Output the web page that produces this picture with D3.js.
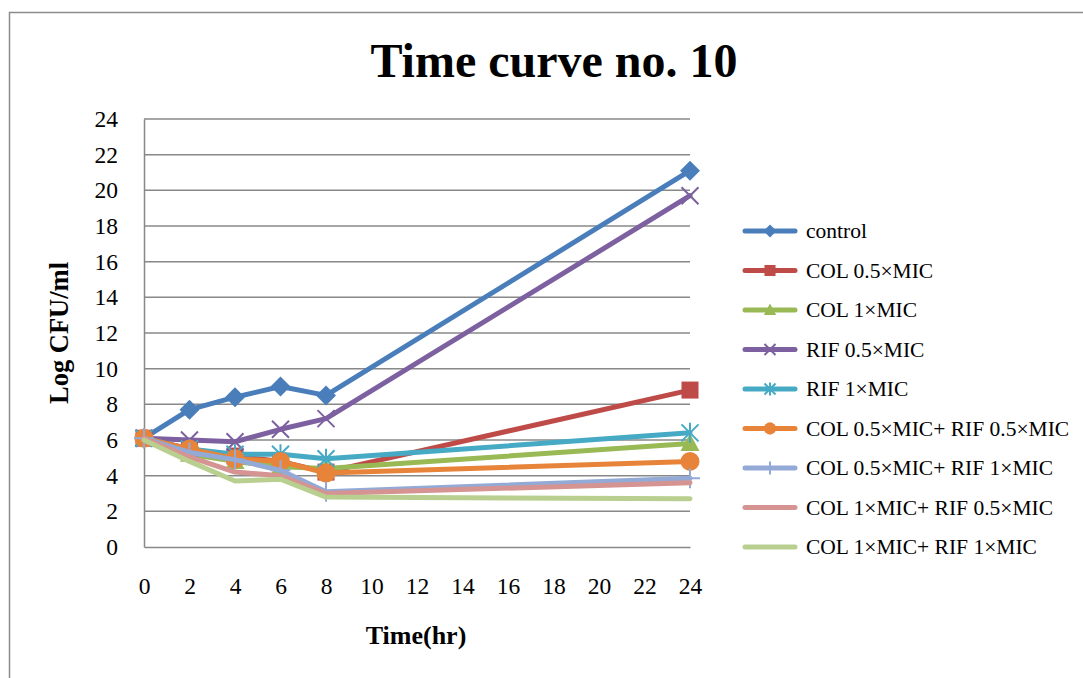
<!DOCTYPE html>
<html>
<head>
<meta charset="utf-8">
<script src="https://cdn.jsdelivr.net/npm/d3@7"></script>
<style>
  body { margin: 0; background: #fff; }
  svg { display: block; font-family: "Liberation Serif", "Times New Roman", serif; }
</style>
</head>
<body>
<svg id="chart" width="1083" height="678"></svg>
<script>
// categories on the x axis (hours)
const hours = [0, 2, 4, 6, 8, 10, 12, 14, 16, 18, 20, 22, 24]
// sampled time points
const times = [0, 2, 4, 6, 8, 24]
const yTicks = [0, 2, 4, 6, 8, 10, 12, 14, 16, 18, 20, 22, 24]

const names = [
  'control',
  'COL 0.5×MIC',
  'COL 1×MIC',
  'RIF 0.5×MIC',
  'RIF 1×MIC',
  'COL 0.5×MIC+ RIF 0.5×MIC',
  'COL 0.5×MIC+ RIF 1×MIC',
  'COL 1×MIC+ RIF 0.5×MIC',
  'COL 1×MIC+ RIF 1×MIC'
]

const control = [6.1, 7.7, 8.4, 9.0, 8.5, 21.1]
const col05 = [6.1, 5.5, 5.1, 4.8, 4.2, 8.8]
const col1 = [6.1, 5.2, 4.8, 4.5, 4.4, 5.8]
const rif05 = [6.1, 6.0, 5.9, 6.6, 7.2, 19.7]
const rif1 = [6.1, 5.5, 5.2, 5.2, 4.95, 6.4]
const col05rif05 = [6.1, 5.5, 4.95, 4.8, 4.15, 4.8]
const col05rif1 = [6.1, 5.3, 4.9, 4.3, 3.1, 3.85]
const col1rif05 = [6.1, 5.05, 4.2, 4.0, 3.0, 3.6]
const col1rif1 = [6.0, 4.8, 3.7, 3.8, 2.8, 2.7]

const allValues = [control, col05, col1, rif05, rif1, col05rif05, col05rif1, col1rif05, col1rif1]
const colors = ['#4A7EBB', '#BE4B48', '#98B954', '#7D60A0', '#46AAC5', '#E8843A', '#93AAD6', '#D59392', '#B9CF8F']
const markers = ['diamond', 'square', 'triangle', 'x', 'star', 'circle', 'plus', 'none', 'none']

const svg = d3.select('#chart')

// outer chart border
svg.append('rect')
  .attr('x', 9.5).attr('y', 12.5)
  .attr('width', 1100).attr('height', 700)
  .attr('fill', 'none')
  .attr('stroke', '#8c8c8c')
  .attr('stroke-width', 1.5)

const x = d3.scalePoint().domain(hours).range([144, 690])
const y = d3.scaleLinear().domain([0, 24]).range([547, 119])

// gridlines
svg.append('g')
  .selectAll('line')
  .data(yTicks.slice(1))
  .enter()
  .append('line')
  .attr('x1', 144).attr('x2', 690)
  .attr('y1', d => y(d)).attr('y2', d => y(d))
  .attr('stroke', '#888')
  .attr('stroke-width', 1.5)

// axes
const yAxis = svg.append('g')
  .attr('transform', 'translate(144,0)')
  .call(d3.axisLeft(y).tickValues(yTicks).tickSize(0).tickPadding(26))
const xAxis = svg.append('g')
  .attr('transform', 'translate(0,547)')
  .call(d3.axisBottom(x).tickSize(0).tickPadding(30))

for (const ax of [xAxis, yAxis]) {
  ax.select('.domain').attr('stroke', '#888').attr('stroke-width', 1.5)
  ax.selectAll('text')
    .attr('font-family', '"Liberation Serif", "Times New Roman", serif')
    .attr('font-size', 23.5)
    .attr('fill', '#000')
}

// titles
svg.append('text')
  .attr('x', 554).attr('y', 77)
  .attr('text-anchor', 'middle')
  .attr('font-size', 48).attr('font-weight', 'bold')
  .text('Time curve no. 10')

svg.append('text')
  .attr('x', 416).attr('y', 644)
  .attr('text-anchor', 'middle')
  .attr('font-size', 26).attr('font-weight', 'bold')
  .text('Time(hr)')

svg.append('text')
  .attr('transform', 'translate(68,333) rotate(-90)')
  .attr('text-anchor', 'middle')
  .attr('font-size', 26.5).attr('font-weight', 'bold')
  .text('Log CFU/ml')

function draw_marker(g, type, color, s) {
  if (type === 'diamond') {
    g.append('path').attr('d', `M0,${-s}L${s},0L0,${s}L${-s},0Z`).attr('fill', color)
  } else if (type === 'square') {
    g.append('rect').attr('x', -s * 0.85).attr('y', -s * 0.85)
      .attr('width', s * 1.7).attr('height', s * 1.7).attr('fill', color)
  } else if (type === 'triangle') {
    g.append('path').attr('d', `M0,${-s}L${s * 0.95},${s * 0.75}L${-s * 0.95},${s * 0.75}Z`).attr('fill', color)
  } else if (type === 'circle') {
    g.append('circle').attr('r', s * 0.95).attr('fill', color)
  } else if (type === 'x' || type === 'star') {
    const k = s * 0.85
    g.append('path')
      .attr('d', `M${-k},${-k}L${k},${k}M${-k},${k}L${k},${-k}` + (type === 'star' ? `M0,${-s}L0,${s}` : ''))
      .attr('stroke', color).attr('stroke-width', 2).attr('fill', 'none')
  } else if (type === 'plus') {
    g.append('path')
      .attr('d', `M0,${-s}L0,${s}M${-s},0L${s},0`)
      .attr('stroke', color).attr('stroke-width', 2).attr('fill', 'none')
  }
}

const line = d3.line()
  .x(d => x(d.t))
  .y(d => y(d.v))

allValues.forEach((vals, i) => {
  const pts = times.map((t, j) => ({ t, v: vals[j] }))
  const g = svg.append('g')
  g.append('path')
    .datum(pts)
    .attr('d', line)
    .attr('fill', 'none')
    .attr('stroke', colors[i])
    .attr('stroke-width', 5)
    .attr('stroke-linejoin', 'round')
    .attr('stroke-linecap', 'round')
  pts.forEach(p => {
    const m = g.append('g').attr('transform', `translate(${x(p.t)},${y(p.v)})`)
    draw_marker(m, markers[i], colors[i], 10)
  })
})

// legend
const legend = svg.append('g')
names.forEach((name, i) => {
  const ly = 231 + i * 39.5
  legend.append('line')
    .attr('x1', 745).attr('x2', 795)
    .attr('y1', ly).attr('y2', ly)
    .attr('stroke', colors[i])
    .attr('stroke-width', 5)
    .attr('stroke-linecap', 'round')
  const m = legend.append('g').attr('transform', `translate(770,${ly})`)
  draw_marker(m, markers[i], colors[i], 6.5)
  legend.append('text')
    .attr('x', 806).attr('y', ly + 7)
    .attr('font-size', 21.5)
    .text(name)
})
</script>
</body>
</html>
